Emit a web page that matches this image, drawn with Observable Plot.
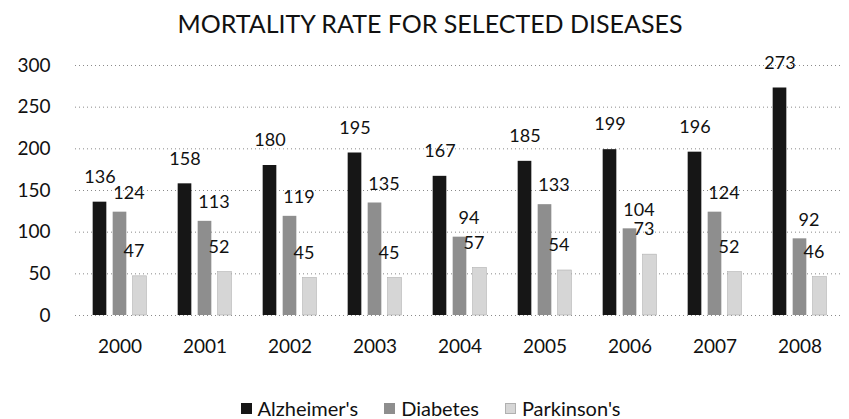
<!DOCTYPE html>
<html>
<head>
<meta charset="utf-8">
<script src="https://cdn.jsdelivr.net/npm/d3@7"></script>
<script src="https://cdn.jsdelivr.net/npm/@observablehq/plot@0.6"></script>
<style>
  body { margin: 0; background: #fff; font-family: Lato, "Open Sans", sans-serif; width: 849px; }
  #title { height: 45px; line-height: 46px; text-align: center; font-size: 25px; color: #111; padding-left: 11px; box-sizing: border-box; }
  #chart svg { display: block; }
  #legend { display: flex; justify-content: center; align-items: center; font-size: 20px; color: #111; margin-top: 36px; padding-left: 12px; height: 24px; }
  #legend .item { display: flex; align-items: center; margin: 0 13px; }
  #legend .sw { width: 11px; height: 11px; margin-right: 6px; box-sizing: border-box; }
</style>
</head>
<body>
<div id="title">MORTALITY RATE FOR SELECTED DISEASES</div>
<div id="chart"></div>
<div id="legend"></div>
<script>
const years = ["2000", "2001", "2002", "2003", "2004", "2005", "2006", "2007", "2008"];
const seriesNames = ["Alzheimer's", "Diabetes", "Parkinson's"];
const alzheimers = [136, 158, 180, 195, 167, 185, 199, 196, 273];
const diabetes = [124, 113, 119, 135, 94, 133, 104, 124, 92];
const parkinsons = [47, 52, 45, 45, 57, 54, 73, 52, 46];
const yTicks = [0, 50, 100, 150, 200, 250, 300];
const colors = ["#161616", "#8e8e8e", "#d6d6d6"];

const seriesValues = [alzheimers, diabetes, parkinsons];
const rows = seriesValues.map(vals => years.map((year, i) => ({year, value: vals[i]})));

const barOffset = [-20, 0, 20];
const labelDx = [-20, 9, 14];
const labelDy = [-25, -19, -25];
const bandW = (849 - 75 - 6) / years.length;
const inset = (bandW - 14) / 2;

const marks = [
  Plot.ruleY(yTicks, {stroke: "#8a8a8a", strokeDasharray: "1,3", strokeWidth: 1})
];
rows.forEach((data, s) => {
  marks.push(Plot.barY(data, {
    x: "year", y: "value", fill: colors[s],
    stroke: s === 2 ? "#b0b0b0" : "none", strokeWidth: 0.6,
    insetLeft: inset, insetRight: inset, dx: barOffset[s]
  }));
});
rows.forEach((data, s) => {
  marks.push(Plot.text(data, {
    x: "year", y: "value", text: d => String(d.value),
    dx: labelDx[s], dy: labelDy[s], fontSize: 18, fill: "#111"
  }));
});

const chart = Plot.plot({
  width: 849,
  height: 315,
  marginTop: 20,
  marginBottom: 45,
  marginLeft: 75,
  marginRight: 6,
  style: {fontFamily: "Lato, 'Open Sans', sans-serif", fontSize: "19px", color: "#111", background: "#fff"},
  x: {domain: years, padding: 0, label: null, tickSize: 0, tickPadding: 24},
  y: {domain: [0, 300], ticks: yTicks, label: null, tickSize: 0, tickPadding: 25},
  marks
});
document.getElementById("chart").appendChild(chart);

const legend = document.getElementById("legend");
seriesNames.forEach((name, s) => {
  const item = document.createElement("div");
  item.className = "item";
  const sw = document.createElement("span");
  sw.className = "sw";
  sw.style.background = colors[s];
  if (s === 2) sw.style.border = "1px solid #b0b0b0";
  const label = document.createElement("span");
  label.textContent = name;
  item.appendChild(sw);
  item.appendChild(label);
  legend.appendChild(item);
});
</script>
</body>
</html>
